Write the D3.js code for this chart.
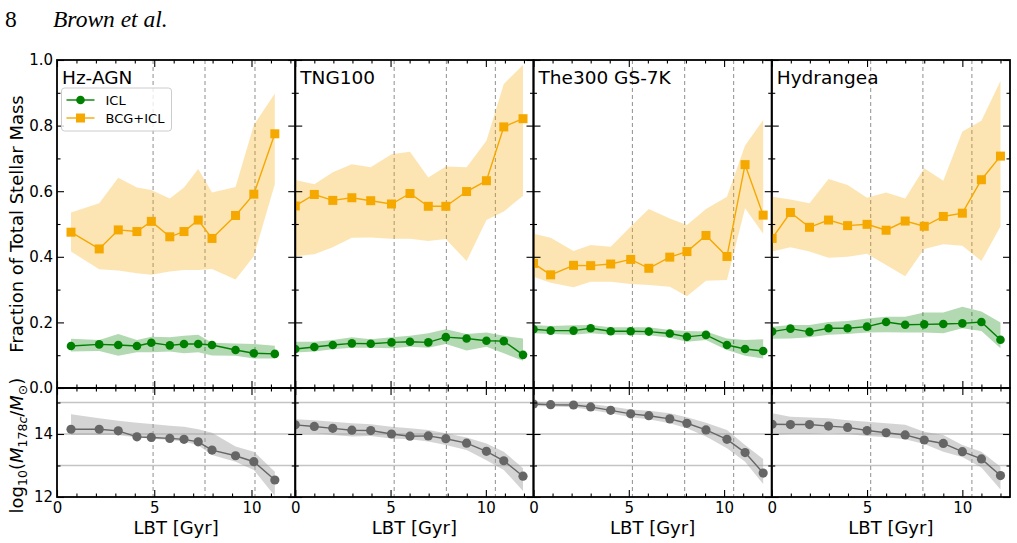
<!DOCTYPE html>
<html>
<head>
<meta charset="utf-8">
<script src="https://cdn.jsdelivr.net/npm/d3@7"></script>
<style>
  body { margin: 0; background: #fff; }
  text { font-family: "DejaVu Sans", sans-serif; }
</style>
</head>
<body>
<svg width="1017" height="543"></svg>
<script>
// simulation names
const sims = ['Hz-AGN', 'TNG100', 'The300 GS-7K', 'Hydrangea'];

// look-back time of each snapshot [Gyr]
const lbtHz = [0.72, 2.17, 3.15, 4.11, 4.85, 5.80, 6.53, 7.26, 7.97, 9.18, 10.12, 11.2];
const lbtTng = [0, 1.0, 1.97, 2.97, 3.96, 5.05, 6.02, 6.98, 7.9, 8.99, 10.03, 10.94, 11.95];
const lbt300 = [0, 0.9, 2.1, 3.0, 4.05, 5.1, 6.05, 7.15, 8.05, 9.05, 10.15, 11.1, 12.05];
const lbtHyd = [0.02, 0.98, 1.98, 2.98, 3.98, 5.0, 6.0, 7.0, 8.0, 9.0, 10.0, 11.0, 12.0];

// ICL fraction (median, upper, lower)
const iclHz = [0.128, 0.133, 0.131, 0.128, 0.138, 0.130, 0.134, 0.134, 0.131, 0.116, 0.106, 0.104];
const iclHzHi = [0.150, 0.146, 0.165, 0.146, 0.156, 0.155, 0.159, 0.162, 0.138, 0.136, 0.134, 0.129];
const iclHzLo = [0.111, 0.113, 0.098, 0.109, 0.109, 0.111, 0.106, 0.109, 0.099, 0.098, 0.090, 0.090];
const iclTng = [0.119, 0.125, 0.131, 0.136, 0.135, 0.139, 0.141, 0.139, 0.155, 0.151, 0.144, 0.143, 0.101];
const iclTngHi = [0.141, 0.141, 0.146, 0.155, 0.149, 0.155, 0.159, 0.167, 0.179, 0.165, 0.169, 0.159, 0.151];
const iclTngLo = [0.108, 0.111, 0.118, 0.123, 0.123, 0.121, 0.126, 0.123, 0.134, 0.114, 0.126, 0.106, 0.083];
const icl300 = [0.179, 0.175, 0.175, 0.182, 0.173, 0.173, 0.172, 0.166, 0.156, 0.162, 0.131, 0.119, 0.113];
const icl300Hi = [0.192, 0.189, 0.191, 0.192, 0.185, 0.185, 0.185, 0.177, 0.174, 0.172, 0.151, 0.146, 0.149];
const icl300Lo = [0.167, 0.165, 0.162, 0.167, 0.162, 0.162, 0.161, 0.153, 0.141, 0.146, 0.116, 0.098, 0.090];
const iclHyd = [0.172, 0.181, 0.171, 0.182, 0.182, 0.187, 0.201, 0.193, 0.194, 0.195, 0.197, 0.201, 0.147];
const iclHydHi = [0.187, 0.192, 0.192, 0.201, 0.204, 0.212, 0.217, 0.217, 0.230, 0.230, 0.248, 0.233, 0.200];
const iclHydLo = [0.150, 0.151, 0.155, 0.162, 0.165, 0.169, 0.170, 0.169, 0.169, 0.167, 0.182, 0.174, 0.121];

// BCG+ICL fraction (median, upper, lower)
const bcgHz = [0.475, 0.424, 0.482, 0.477, 0.508, 0.461, 0.477, 0.512, 0.456, 0.526, 0.591, 0.775];
const bcgHzHi = [0.535, 0.563, 0.641, 0.611, 0.604, 0.578, 0.611, 0.668, 0.596, 0.613, 0.802, 0.898];
const bcgHzLo = [0.416, 0.362, 0.358, 0.350, 0.345, 0.355, 0.360, 0.360, 0.363, 0.331, 0.402, 0.621];
const bcgTng = [0.555, 0.590, 0.572, 0.580, 0.571, 0.561, 0.593, 0.554, 0.554, 0.599, 0.632, 0.796, 0.821];
const bcgTngHi = [0.634, 0.621, 0.658, 0.682, 0.673, 0.713, 0.720, 0.642, 0.675, 0.673, 0.754, 0.927, 0.985];
const bcgTngLo = [0.402, 0.408, 0.429, 0.458, 0.459, 0.455, 0.455, 0.448, 0.454, 0.387, 0.512, 0.538, 0.586];
const bcg300 = [0.380, 0.345, 0.374, 0.373, 0.378, 0.392, 0.365, 0.399, 0.416, 0.465, 0.401, 0.681, 0.527];
const bcg300Hi = [0.470, 0.458, 0.418, 0.436, 0.431, 0.492, 0.546, 0.517, 0.497, 0.546, 0.583, 0.739, 0.817];
const bcg300Lo = [0.339, 0.321, 0.307, 0.324, 0.324, 0.317, 0.314, 0.309, 0.280, 0.327, 0.329, 0.548, 0.470];
const bcgHyd = [0.456, 0.535, 0.490, 0.512, 0.495, 0.499, 0.481, 0.509, 0.493, 0.523, 0.533, 0.635, 0.707];
const bcgHydHi = [0.583, 0.575, 0.563, 0.637, 0.619, 0.580, 0.596, 0.578, 0.670, 0.632, 0.782, 0.815, 0.936];
const bcgHydLo = [0.416, 0.429, 0.416, 0.397, 0.400, 0.409, 0.375, 0.341, 0.424, 0.438, 0.434, 0.387, 0.492];

// log10 halo mass (median, upper, lower)
const massHz = [14.15, 14.15, 14.10, 13.91, 13.89, 13.86, 13.83, 13.75, 13.49, 13.31, 13.12, 12.54];
const massHzHi = [14.63, 14.50, 14.42, 14.36, 14.32, 14.26, 14.23, 14.15, 14.04, 13.60, 13.44, 12.80];
const massHzLo = [13.97, 13.97, 13.97, 13.89, 13.85, 13.81, 13.76, 13.64, 13.33, 13.12, 12.86, 12.03];
const massTng = [14.29, 14.24, 14.18, 14.12, 14.11, 14.00, 13.93, 13.94, 13.85, 13.71, 13.45, 13.15, 12.66];
const massTngHi = [14.47, 14.44, 14.39, 14.34, 14.31, 14.23, 14.18, 14.13, 14.02, 13.89, 13.70, 13.44, 12.91];
const massTngLo = [14.02, 14.02, 13.97, 13.92, 13.94, 13.86, 13.83, 13.76, 13.65, 13.49, 13.17, 12.86, 12.19];
const mass300 = [14.95, 14.93, 14.92, 14.86, 14.75, 14.64, 14.58, 14.48, 14.34, 14.13, 13.83, 13.41, 12.76];
const mass300Hi = [15.03, 14.99, 14.99, 14.95, 14.87, 14.78, 14.74, 14.66, 14.53, 14.36, 14.13, 13.65, 13.21];
const mass300Lo = [14.89, 14.87, 14.85, 14.76, 14.66, 14.53, 14.47, 14.34, 14.18, 13.92, 13.55, 13.12, 12.41];
const massHyd = [14.31, 14.30, 14.30, 14.25, 14.21, 14.11, 14.04, 13.97, 13.81, 13.70, 13.44, 13.21, 12.68];
const massHydHi = [14.66, 14.55, 14.52, 14.50, 14.44, 14.39, 14.34, 14.29, 14.07, 13.97, 13.65, 13.44, 12.96];
const massHydLo = [13.97, 14.00, 14.00, 14.02, 14.00, 13.94, 13.90, 13.83, 13.68, 13.44, 13.27, 12.94, 12.24];

// LBT of z = 0.5, 1, 2 in each cosmology
const zLinesHz = [4.94, 7.61, 10.18];
const zLines = [5.19, 7.93, 10.5];

// axis limits and ticks
const xMaxes = [12.25, 12.5, 12.5, 12.5];
const xMajor = [0, 5, 10];
const xMinor = d3.range(0, 13);
const fracMajor = [0, 0.2, 0.4, 0.6, 0.8, 1.0];
const fracMinor = [0.1, 0.3, 0.5, 0.7, 0.9];
const massMajor = [12, 14];
const massMinor = [13, 15];
const massGrid = [13, 14, 15];

const panels = [
  {lbt: lbtHz, icl: iclHz, iclHi: iclHzHi, iclLo: iclHzLo, bcg: bcgHz, bcgHi: bcgHzHi, bcgLo: bcgHzLo, m: massHz, mHi: massHzHi, mLo: massHzLo, z: zLinesHz},
  {lbt: lbtTng, icl: iclTng, iclHi: iclTngHi, iclLo: iclTngLo, bcg: bcgTng, bcgHi: bcgTngHi, bcgLo: bcgTngLo, m: massTng, mHi: massTngHi, mLo: massTngLo, z: zLines},
  {lbt: lbt300, icl: icl300, iclHi: icl300Hi, iclLo: icl300Lo, bcg: bcg300, bcgHi: bcg300Hi, bcgLo: bcg300Lo, m: mass300, mHi: mass300Hi, mLo: mass300Lo, z: zLines},
  {lbt: lbtHyd, icl: iclHyd, iclHi: iclHydHi, iclLo: iclHydLo, bcg: bcgHyd, bcgHi: bcgHydHi, bcgLo: bcgHydLo, m: massHyd, mHi: massHydHi, mLo: massHydLo, z: zLines}
];

const GREEN = '#008000', ORANGE = '#f5a800', GREY = '#666666';

const svg = d3.select('svg');
const x0 = 57, x1 = 1010, yTop = 60, yMid = 388, yBot = 497;
const pw = (x1 - x0) / 4;

const yFrac = d3.scaleLinear().domain([0, 1]).range([yMid, yTop]);
const yMass = d3.scaleLinear().domain([12, 15.46]).range([yBot, yMid]);

// page header
svg.append('text').attr('x', 5).attr('y', 27).text('8')
  .style('font-family', '"Liberation Serif", serif').style('font-size', '23.5px');
svg.append('text').attr('x', 53).attr('y', 27).text('Brown et al.')
  .style('font-family', '"Liberation Serif", serif').style('font-size', '23.5px').style('font-style', 'italic');

const styleAxis = (g, labels) => {
  g.select('.domain').remove();
  g.selectAll('line').attr('stroke', '#000').attr('stroke-width', 1.1);
  g.selectAll('text').style('font-size', '15px').style('font-family', '"DejaVu Sans", sans-serif').attr('fill', '#000');
  if (!labels) g.selectAll('text').remove();
};

panels.forEach((p, i) => {
  const x = d3.scaleLinear().domain([0, xMaxes[i]]).range([0, pw]);
  const g = svg.append('g').attr('transform', `translate(${x0 + i * pw},0)`);

  const clipT = 'clipT' + i, clipB = 'clipB' + i;
  g.append('clipPath').attr('id', clipT).append('rect')
    .attr('x', 0).attr('y', yTop).attr('width', pw).attr('height', yMid - yTop);
  g.append('clipPath').attr('id', clipB).append('rect')
    .attr('x', 0).attr('y', yMid).attr('width', pw).attr('height', yBot - yMid);

  // horizontal grid of the mass panel
  g.append('g').selectAll('line').data(massGrid).enter().append('line')
    .attr('x1', 0).attr('x2', pw)
    .attr('y1', d => yMass(d)).attr('y2', d => yMass(d))
    .attr('stroke', '#c4c4c4').attr('stroke-width', 1.4);

  // redshift markers
  g.append('g').selectAll('line').data(p.z).enter().append('line')
    .attr('x1', d => x(d)).attr('x2', d => x(d))
    .attr('y1', yTop).attr('y2', yBot)
    .attr('stroke', '#9a9a9a').attr('stroke-width', 1.1).attr('stroke-dasharray', '4,3');

  const idx = d3.range(p.lbt.length);

  const band = (hi, lo, ys) => d3.area().x(j => x(p.lbt[j])).y0(j => ys(lo[j])).y1(j => ys(hi[j]));
  const line = (v, ys) => d3.line().x(j => x(p.lbt[j])).y(j => ys(v[j]));

  // top panel
  const gt = g.append('g').attr('clip-path', `url(#${clipT})`);
  gt.append('path').attr('d', band(p.bcgHi, p.bcgLo, yFrac)(idx)).attr('fill', ORANGE).attr('fill-opacity', 0.3);
  gt.append('path').attr('d', band(p.iclHi, p.iclLo, yFrac)(idx)).attr('fill', GREEN).attr('fill-opacity', 0.3);

  gt.append('path').attr('d', line(p.icl, yFrac)(idx)).attr('fill', 'none').attr('stroke', GREEN).attr('stroke-width', 1.4);
  gt.selectAll('circle.icl').data(idx).enter().append('circle').attr('class', 'icl')
    .attr('cx', j => x(p.lbt[j])).attr('cy', j => yFrac(p.icl[j])).attr('r', 4.3).attr('fill', GREEN);

  gt.append('path').attr('d', line(p.bcg, yFrac)(idx)).attr('fill', 'none').attr('stroke', ORANGE).attr('stroke-width', 1.4);
  gt.selectAll('rect.bcg').data(idx).enter().append('rect').attr('class', 'bcg')
    .attr('x', j => x(p.lbt[j]) - 4.5).attr('y', j => yFrac(p.bcg[j]) - 4.5)
    .attr('width', 9).attr('height', 9).attr('fill', ORANGE);

  // bottom panel
  const gb = g.append('g').attr('clip-path', `url(#${clipB})`);
  gb.append('path').attr('d', band(p.mHi, p.mLo, yMass)(idx)).attr('fill', '#a0a0a0').attr('fill-opacity', 0.45);
  gb.append('path').attr('d', line(p.m, yMass)(idx)).attr('fill', 'none').attr('stroke', GREY).attr('stroke-width', 1.4);
  gb.selectAll('circle').data(idx).enter().append('circle')
    .attr('cx', j => x(p.lbt[j])).attr('cy', j => yMass(p.m[j])).attr('r', 4.6).attr('fill', GREY);

  // frames
  [[yTop, yMid], [yMid, yBot]].forEach(([a, b]) => {
    g.append('rect').attr('x', 0).attr('y', a).attr('width', pw).attr('height', b - a)
      .attr('fill', 'none').attr('stroke', '#000').attr('stroke-width', 1.8);
  });

  // x ticks on every horizontal edge
  [[yTop, d3.axisTop, false], [yMid, d3.axisBottom, false], [yMid, d3.axisTop, false], [yBot, d3.axisBottom, true]]
    .forEach(([yy, ax, lab]) => {
      g.append('g').attr('transform', `translate(0,${yy})`)
        .call(ax(x).tickValues(xMajor).tickSize(-7).tickPadding(5).tickFormat(d3.format('d')))
        .call(s => styleAxis(s, lab));
      g.append('g').attr('transform', `translate(0,${yy})`)
        .call(ax(x).tickValues(xMinor.filter(v => v <= xMaxes[i] && xMajor.indexOf(v) < 0)).tickSize(-3.5))
        .call(s => styleAxis(s, false));
    });

  // y ticks, left and right
  [[yFrac, fracMajor, fracMinor, d3.format('.1f')], [yMass, massMajor, massMinor, d3.format('d')]]
    .forEach(([ys, maj, mnr, fmt]) => {
      g.append('g').call(d3.axisLeft(ys).tickValues(maj).tickSize(-7).tickPadding(4).tickFormat(fmt))
        .call(s => styleAxis(s, i === 0));
      g.append('g').call(d3.axisLeft(ys).tickValues(mnr).tickSize(-3.5)).call(s => styleAxis(s, false));
      g.append('g').attr('transform', `translate(${pw},0)`)
        .call(d3.axisRight(ys).tickValues(maj).tickSize(-7)).call(s => styleAxis(s, false));
      g.append('g').attr('transform', `translate(${pw},0)`)
        .call(d3.axisRight(ys).tickValues(mnr).tickSize(-3.5)).call(s => styleAxis(s, false));
    });

  // simulation name
  g.append('text').attr('x', 5).attr('y', 84).text(sims[i]).style('font-size', '18.5px');

  // x label
  g.append('text').attr('x', pw / 2).attr('y', 534).attr('text-anchor', 'middle')
    .text('LBT [Gyr]').style('font-size', '18px');
});

// legend
const lg = svg.append('g').attr('transform', 'translate(61.5,88)');
lg.append('rect').attr('width', 110).attr('height', 43).attr('rx', 3)
  .attr('fill', '#fff').attr('fill-opacity', 0.8).attr('stroke', '#cccccc');
[['ICL', GREEN, 'c'], ['BCG+ICL', ORANGE, 's']].forEach(([name, col, shape], k) => {
  const yy = 12 + k * 18;
  lg.append('line').attr('x1', 5).attr('x2', 33).attr('y1', yy).attr('y2', yy).attr('stroke', col).attr('stroke-width', 1.4);
  if (shape === 'c') lg.append('circle').attr('cx', 19).attr('cy', yy).attr('r', 4.3).attr('fill', col);
  else lg.append('rect').attr('x', 14.5).attr('y', yy - 4.5).attr('width', 9).attr('height', 9).attr('fill', col);
  lg.append('text').attr('x', 44).attr('y', yy + 4.7).text(name).style('font-size', '13px');
});

// y labels
svg.append('text').attr('transform', `translate(23,${(yTop + yMid) / 2}) rotate(-90)`)
  .attr('text-anchor', 'middle').text('Fraction of Total Stellar Mass').style('font-size', '18px');

const yl = svg.append('text').attr('transform', `translate(23,${(yMid + yBot) / 2 + 3}) rotate(-90)`)
  .attr('text-anchor', 'middle').style('font-size', '18px');
yl.append('tspan').text('log');
yl.append('tspan').text('10').attr('dy', 4).style('font-size', '12.5px');
yl.append('tspan').text('(').attr('dy', -4);
yl.append('tspan').text('M').style('font-style', 'italic');
yl.append('tspan').text('178').attr('dy', 4).style('font-size', '12.5px');
yl.append('tspan').text('c').style('font-size', '12.5px').style('font-style', 'italic');
yl.append('tspan').text('/').attr('dy', -4);
yl.append('tspan').text('M').style('font-style', 'italic');
yl.append('tspan').text('\u2299').attr('dy', 4).style('font-size', '12.5px');
yl.append('tspan').text(')').attr('dy', -4);
</script>
</body>
</html>
